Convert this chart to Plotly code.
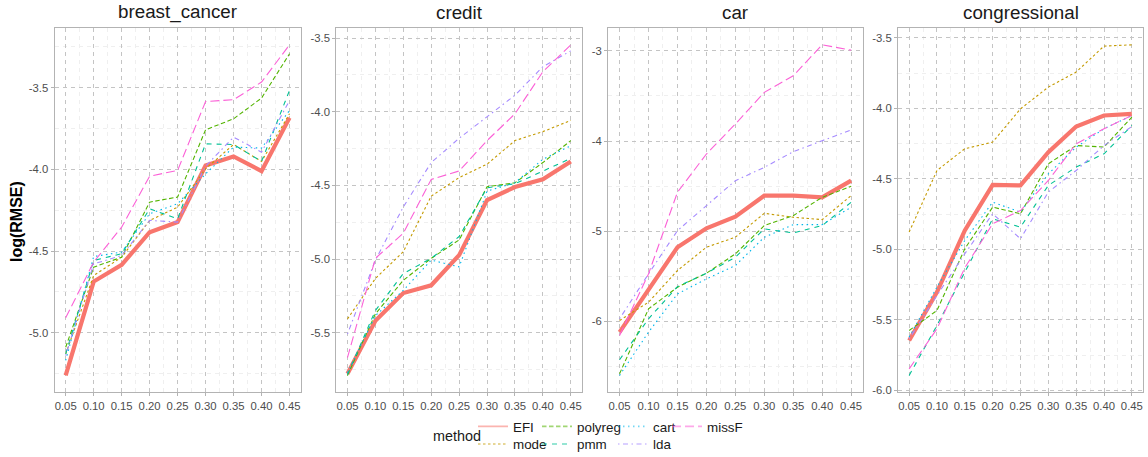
import plotly.graph_objects as go

W, H = 1148, 457

missing_rate = [0.05, 0.10, 0.15, 0.20, 0.25, 0.30, 0.35, 0.40, 0.45]
tick_labels = ["0.05", "0.10", "0.15", "0.20", "0.25", "0.30", "0.35", "0.40", "0.45"]
datasets = ["breast_cancer", "credit", "car", "congressional"]
methods = ["EFI", "mode", "polyreg", "pmm", "cart", "lda", "missF"]

# log(RMSE) per dataset, per method
breast_cancer_EFI = [-5.261, -4.686, -4.584, -4.384, -4.322, -3.976, -3.920, -4.010, -3.684]
breast_cancer_mode = [-5.129, -4.649, -4.537, -4.312, -4.231, -3.996, -3.847, -3.951, -3.659]
breast_cancer_polyreg = [-5.088, -4.598, -4.537, -4.200, -4.169, -3.757, -3.690, -3.563, -3.292]
breast_cancer_pmm = [-5.129, -4.557, -4.516, -4.241, -4.302, -3.843, -3.847, -3.951, -3.516]
breast_cancer_cart = [-5.169, -4.533, -4.506, -4.271, -4.210, -4.027, -3.863, -3.869, -3.639]
breast_cancer_lda = [-5.139, -4.578, -4.527, -4.312, -4.322, -3.980, -3.802, -3.894, -3.578]
breast_cancer_missF = [-4.908, -4.567, -4.353, -4.041, -4.006, -3.584, -3.573, -3.465, -3.237]

credit_EFI = [-5.779, -5.418, -5.231, -5.178, -4.973, -4.600, -4.511, -4.459, -4.338]
credit_mode = [-5.406, -5.132, -4.950, -4.573, -4.447, -4.356, -4.196, -4.135, -4.059]
credit_polyreg = [-5.790, -5.372, -5.144, -4.995, -4.870, -4.509, -4.482, -4.345, -4.196]
credit_pmm = [-5.783, -5.349, -5.098, -4.995, -4.847, -4.516, -4.489, -4.402, -4.317]
credit_cart = [-5.772, -5.384, -5.212, -5.007, -5.053, -4.539, -4.482, -4.322, -4.231]
credit_lda = [-5.509, -5.007, -4.646, -4.345, -4.180, -4.037, -3.888, -3.694, -3.587]
credit_missF = [-5.669, -4.995, -4.824, -4.459, -4.402, -4.196, -4.014, -3.728, -3.546]

car_EFI = [-6.118, -5.649, -5.177, -4.967, -4.838, -4.605, -4.605, -4.624, -4.439]
car_mode = [-5.989, -5.786, -5.435, -5.177, -5.066, -4.801, -4.845, -4.871, -4.605]
car_polyreg = [-6.579, -5.860, -5.620, -5.465, -5.251, -4.937, -4.827, -4.624, -4.502]
car_pmm = [-6.424, -5.970, -5.613, -5.465, -5.288, -4.974, -5.018, -4.937, -4.679]
car_cart = [-6.598, -6.118, -5.694, -5.528, -5.380, -5.066, -4.926, -4.926, -4.734]
car_lda = [-5.970, -5.472, -4.993, -4.716, -4.439, -4.292, -4.118, -3.996, -3.878]
car_missF = [-6.155, -5.472, -4.568, -4.144, -3.812, -3.461, -3.277, -2.934, -2.993]

congressional_EFI = [-5.647, -5.304, -4.866, -4.543, -4.547, -4.311, -4.129, -4.051, -4.039]
congressional_mode = [-4.878, -4.441, -4.287, -4.240, -4.004, -3.850, -3.743, -3.559, -3.550]
congressional_polyreg = [-5.576, -5.434, -4.996, -4.701, -4.748, -4.394, -4.264, -4.275, -4.063]
congressional_pmm = [-5.895, -5.540, -5.162, -4.784, -4.843, -4.547, -4.417, -4.323, -4.122]
congressional_cart = [-5.623, -5.268, -4.937, -4.666, -4.736, -4.465, -4.275, -4.145, -4.051]
congressional_lda = [-5.635, -5.327, -5.032, -4.748, -4.926, -4.594, -4.441, -4.264, -4.129]
congressional_missF = [-5.848, -5.564, -5.131, -4.819, -4.725, -4.512, -4.252, -4.145, -4.051]

# y tick values per panel
breast_cancer_yticks = [-5.0, -4.5, -4.0, -3.5]
credit_yticks = [-5.5, -5.0, -4.5, -4.0, -3.5]
car_yticks = [-6, -5, -4, -3]
congressional_yticks = [-6.0, -5.5, -5.0, -4.5, -4.0, -3.5]
breast_cancer_ylabels = ["-5.0", "-4.5", "-4.0", "-3.5"]
credit_ylabels = ["-5.5", "-5.0", "-4.5", "-4.0", "-3.5"]
car_ylabels = ["-6", "-5", "-4", "-3"]
congressional_ylabels = ["-6.0", "-5.5", "-5.0", "-4.5", "-4.0", "-3.5"]

data = {
    "breast_cancer": [breast_cancer_EFI, breast_cancer_mode, breast_cancer_polyreg, breast_cancer_pmm,
                      breast_cancer_cart, breast_cancer_lda, breast_cancer_missF],
    "credit": [credit_EFI, credit_mode, credit_polyreg, credit_pmm, credit_cart, credit_lda, credit_missF],
    "car": [car_EFI, car_mode, car_polyreg, car_pmm, car_cart, car_lda, car_missF],
    "congressional": [congressional_EFI, congressional_mode, congressional_polyreg, congressional_pmm,
                      congressional_cart, congressional_lda, congressional_missF],
}
yticks = {"breast_cancer": (breast_cancer_yticks, breast_cancer_ylabels),
          "credit": (credit_yticks, credit_ylabels),
          "car": (car_yticks, car_ylabels),
          "congressional": (congressional_yticks, congressional_ylabels)}

# ---- styles ----
colors = ["#F8766D", "#C49A00", "#53B400", "#00C094", "#00B6EB", "#A58AFF", "#FB61D7"]
dashes = ["solid", "2.5px,2.5px", "4.5px,2.5px", "5px,5px", "1.5px,3.5px", "1.5px,3.5px,5px,3.5px", "9px,4px"]
widths = [4.2, 1.1, 1.1, 1.1, 1.1, 1.1, 1.1]

FONT = "Liberation Sans, Arial, sans-serif"

# panel pixel geometry
panels_px = [(54.5, 300.7), (336.3, 582.0), (608.0, 862.7), (898.0, 1143.0)]
top_px, bot_px = 28.3, 392.0

def pad_range(vals):
    lo = min(min(v) for v in vals)
    hi = max(max(v) for v in vals)
    d = (hi - lo) * 0.05
    return [lo - d, hi + d]

fig = go.Figure()

for i, ds in enumerate(datasets):
    ax = "" if i == 0 else str(i + 1)
    for m, method in enumerate(methods):
        fig.add_trace(go.Scatter(
            x=missing_rate, y=data[ds][m], mode="lines",
            line=dict(color=colors[m], width=widths[m], dash=dashes[m]),
            name=method, showlegend=False, hoverinfo="skip",
            xaxis="x" + ax, yaxis="y" + ax))

    xmin = missing_rate[0] - (missing_rate[-1] - missing_rate[0]) * 0.05
    xmax = missing_rate[-1] + (missing_rate[-1] - missing_rate[0]) * 0.05
    xminor = [(a + b) / 2 for a, b in zip(missing_rate[:-1], missing_rate[1:])]
    yt, yl = yticks[ds]
    yrng = pad_range(data[ds])
    step = yt[1] - yt[0]
    yminor = [yt[0] - step / 2 + k * step for k in range(len(yt) + 2)]

    common = dict(showline=True, mirror=True, linecolor="#B3B3B3", linewidth=1,
                  ticks="outside", ticklen=3, tickcolor="#B3B3B3", tickwidth=1,
                  showgrid=True, gridcolor="#C4C4C4", gridwidth=1, griddash="4px,4px",
                  zeroline=False, automargin=False,
                  tickfont=dict(family=FONT, size=11.3, color="#4D4D4D"))
    x0, x1 = panels_px[i]
    fig.layout["xaxis" + ax] = dict(
        domain=[x0 / W, x1 / W], range=[xmin, xmax], anchor="y" + ax,
        tickvals=missing_rate, ticktext=tick_labels,
        minor=dict(tickvals=xminor, showgrid=True, gridcolor="#EFEFEF", gridwidth=1, ticks=""),
        **common)
    fig.layout["yaxis" + ax] = dict(
        domain=[1 - bot_px / H, 1 - top_px / H], range=yrng, anchor="x" + ax,
        tickvals=yt, ticktext=yl,
        minor=dict(tickvals=yminor, showgrid=True, gridcolor="#EFEFEF", gridwidth=1, ticks=""),
        **common)
    fig.add_annotation(text=ds, x=(x0 + x1) / 2 / W, y=1 - 12 / H, xref="paper", yref="paper",
                       xanchor="center", yanchor="middle", showarrow=False,
                       font=dict(family=FONT, size=18.8, color="#1A1A1A"))

# legend: one small legend per entry, laid out like ggplot's 2-row legend
leg_text_x = [513, 513, 577, 577, 653, 653, 707]
leg_row_y = [426.7, 444.3, 426.7, 444.3, 426.7, 444.3, 426.7]
for m, method in enumerate(methods):
    lname = "legend" if m == 0 else "legend" + str(m + 1)
    fig.add_trace(go.Scatter(
        x=[None], y=[None], mode="lines", name=method, legend=lname,
        line=dict(color=colors[m], width=1.6, dash=dashes[m]), opacity=0.55,
        hoverinfo="skip"))
    fig.layout[lname] = dict(
        x=(leg_text_x[m] - 40) / W, y=1 - leg_row_y[m] / H, xanchor="left", yanchor="middle",
        orientation="v", bgcolor="rgba(0,0,0,0)", borderwidth=0, itemwidth=30,
        font=dict(family=FONT, size=13.4, color="#1A1A1A"), tracegroupgap=0)

fig.add_annotation(text="method", x=431 / W, y=1 - 436 / H, xref="paper", yref="paper",
                   xanchor="left", yanchor="middle", showarrow=False,
                   font=dict(family=FONT, size=14.4, color="#1A1A1A"))
fig.add_annotation(text="<b>log(RMSE)</b>", x=16 / W, y=1 - 222 / H, xref="paper", yref="paper",
                   xanchor="center", yanchor="middle", showarrow=False, textangle=-90,
                   font=dict(family=FONT, size=16, color="#000000"))

fig.update_layout(width=W, height=H, margin=dict(l=0, r=0, t=0, b=0, autoexpand=False),
                  template="none", paper_bgcolor="white", plot_bgcolor="white")

fig.write_html("out.html", config={"displayModeBar": False},
               post_script="document.body.style.margin='0px';document.body.style.overflow='hidden';")
